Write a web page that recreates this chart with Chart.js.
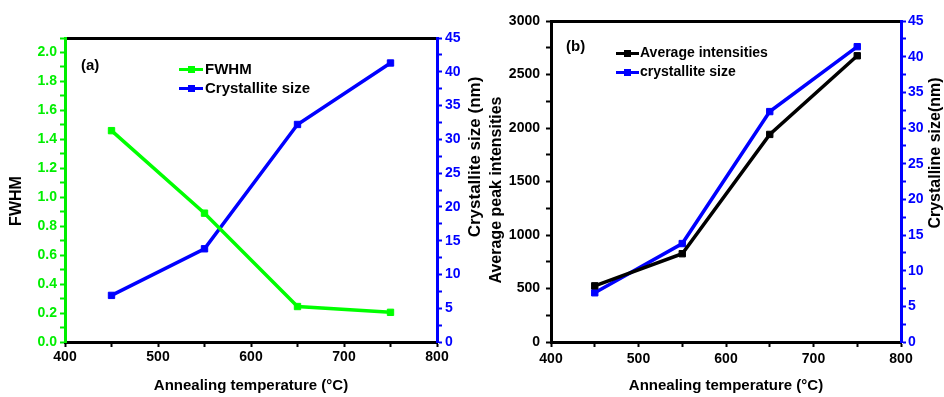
<!DOCTYPE html>
<html><head><meta charset="utf-8">
<script src="https://cdn.jsdelivr.net/npm/chart.js@4.4.0/dist/chart.umd.min.js"></script>
<style>
html,body{margin:0;padding:0;background:#fff;}
#wrap{position:relative;width:944px;height:397px;overflow:hidden;background:#fff;font-family:"Liberation Sans",Arial,sans-serif;font-weight:bold;}
canvas{position:absolute;top:0;}
#c1{left:0;}
#c2{left:484px;}
.lg{position:absolute;white-space:nowrap;line-height:16px;height:16px;color:#000;}
.ln{position:absolute;height:3px;}
.mk{position:absolute;width:7px;height:7px;}
</style></head><body>
<div id="wrap">
<canvas id="c1" width="490" height="397"></canvas>
<canvas id="c2" width="460" height="397"></canvas>
<div class="lg" style="left:81px;top:57px;font-size:15px;">(a)</div>
<div class="ln" style="left:179px;top:68px;width:24px;background:#00ff00;"></div>
<div class="mk" style="left:188px;top:66px;background:#00ff00;"></div>
<div class="lg" style="left:205px;top:61px;font-size:15px;">FWHM</div>
<div class="ln" style="left:179px;top:87px;width:24px;background:#0000ff;"></div>
<div class="mk" style="left:188px;top:85px;background:#0000ff;"></div>
<div class="lg" style="left:205px;top:80px;font-size:15px;">Crystallite size</div>
<div class="lg" style="left:566px;top:38px;font-size:15px;">(b)</div>
<div class="ln" style="left:616px;top:52px;width:23px;background:#000;"></div>
<div class="mk" style="left:624px;top:50px;background:#000;"></div>
<div class="lg" style="left:640px;top:44px;font-size:14px;">Average intensities</div>
<div class="ln" style="left:616px;top:71px;width:23px;background:#0000ff;"></div>
<div class="mk" style="left:624px;top:69px;background:#0000ff;"></div>
<div class="lg" style="left:640px;top:63px;font-size:14px;">crystallite size</div>
</div>
<script>
// ---- data ----
const temps = [450, 550, 650, 750];
const fwhm = [1.46, 0.89, 0.245, 0.205];
const crystalliteA = [6.9, 13.8, 32.2, 41.3];
const intensities = [525, 825, 1940, 2675];
const crystalliteB = [6.9, 13.8, 32.3, 41.4];
const xTickLabels = [400, 500, 600, 700, 800];

const GREEN = '#00ff00', BLUE = '#0000ff', BLACK = '#000000';
const FAM = '"Liberation Sans", Arial, sans-serif';
const tickFont = {family: FAM, weight: 'bold', size: 14};

function pts(xs, ys){ return xs.map((x,i)=>({x:x, y:ys[i]})); }

function titlesPlugin(list){
  return {id:'ytitles', afterDraw(chart){
    const ctx = chart.ctx;
    list.forEach(t=>{
      ctx.save();
      ctx.font = 'bold ' + t.size + 'px ' + FAM;
      ctx.fillStyle = '#000';
      ctx.textAlign = 'center';
      ctx.textBaseline = 'middle';
      ctx.translate(t.x, t.y);
      ctx.rotate(-Math.PI/2);
      ctx.fillText(t.text, 0, 0);
      ctx.restore();
    });
  }};
}

function xAxis(h, pad){
  return {
    type:'linear', position:'bottom', min:400, max:800,
    afterFit(s){ s.height = h; },
    ticks:{stepSize:50, autoSkip:false, color:BLACK, font:tickFont, padding:pad,
      callback:(v)=> xTickLabels.includes(v) ? String(v) : ''},
    grid:{drawOnChartArea:false, color:BLACK, tickLength:5, tickWidth:2},
    border:{color:BLACK, width:3},
    title:{display:true, text:'Annealing temperature (°C)', color:BLACK,
      font:{family:FAM, weight:'bold', size:15, lineHeight:1}, padding:{top:0,bottom:h===55?4:0}}
  };
}
function topAxis(h){
  return {type:'linear', position:'top', min:400, max:800,
    afterFit(s){ s.height = h; },
    ticks:{display:false}, grid:{drawOnChartArea:false, drawTicks:false},
    border:{color:BLACK, width:3}};
}
function yAxis(pos, w, min, max, step, major, color, fmt, pad){
  return {type:'linear', position:pos, min:min, max:max,
    afterFit(s){ s.width = w; },
    ticks:{stepSize:step, autoSkip:false, color:color, font:tickFont, padding:pad,
      callback:(v)=>{ const r = Math.round(v/step); const m = Math.round(major/step); return r % m === 0 ? fmt(v) : ''; }},
    grid:{drawOnChartArea:false, color:color, tickLength:5, tickWidth:2},
    border:{color:color, width:3}};
}
function ds(label, xs, ys, color, axis){
  return {label:label, data:pts(xs, ys), yAxisID:axis, borderColor:color, backgroundColor:color,
    borderWidth:3.5, pointStyle:'rect', pointRadius:4.5, pointBorderWidth:1, pointBorderColor:color,
    pointBackgroundColor:color, fill:false, tension:0};
}

new Chart(document.getElementById('c1'), {
  type:'line',
  data:{datasets:[
    ds('FWHM', temps, fwhm, GREEN, 'y'),
    ds('Crystallite size', temps, crystalliteA, BLUE, 'y1')
  ]},
  options:{responsive:false, animation:false, devicePixelRatio:1,
    layout:{padding:0},
    plugins:{legend:{display:false}, tooltip:{enabled:false}},
    scales:{
      x: xAxis(55, 2),
      x2: topAxis(38),
      y: yAxis('left', 65, 0, 2.1, 0.1, 0.2, '#00ee00', v=>v.toFixed(1), 3),
      y1: yAxis('right', 53, 0, 45, 2.5, 5, BLUE, v=>String(v), 3)
    }
  },
  plugins:[titlesPlugin([
    {text:'FWHM', x:17, y:201, size:16},
    {text:'Crystallite size (nm)', x:475, y:157, size:17}
  ])]
});

new Chart(document.getElementById('c2'), {
  type:'line',
  data:{datasets:[
    ds('Average intensities', temps, intensities, BLACK, 'y'),
    ds('crystallite size', temps, crystalliteB, BLUE, 'y1')
  ]},
  options:{responsive:false, animation:false, devicePixelRatio:1,
    layout:{padding:0},
    plugins:{legend:{display:false}, tooltip:{enabled:false}},
    scales:{
      x: xAxis(55, 4),
      x2: topAxis(21),
      y: yAxis('left', 67, 0, 3000, 250, 500, BLACK, v=>String(v), 6),
      y1: yAxis('right', 43, 0, 45, 2.5, 5, BLUE, v=>String(v), 2)
    }
  },
  plugins:[titlesPlugin([
    {text:'Average peak intensities', x:13, y:190, size:16},
    {text:'Crystalline size(nm)', x:452, y:153, size:16}
  ])]
});
</script>
</body></html>
